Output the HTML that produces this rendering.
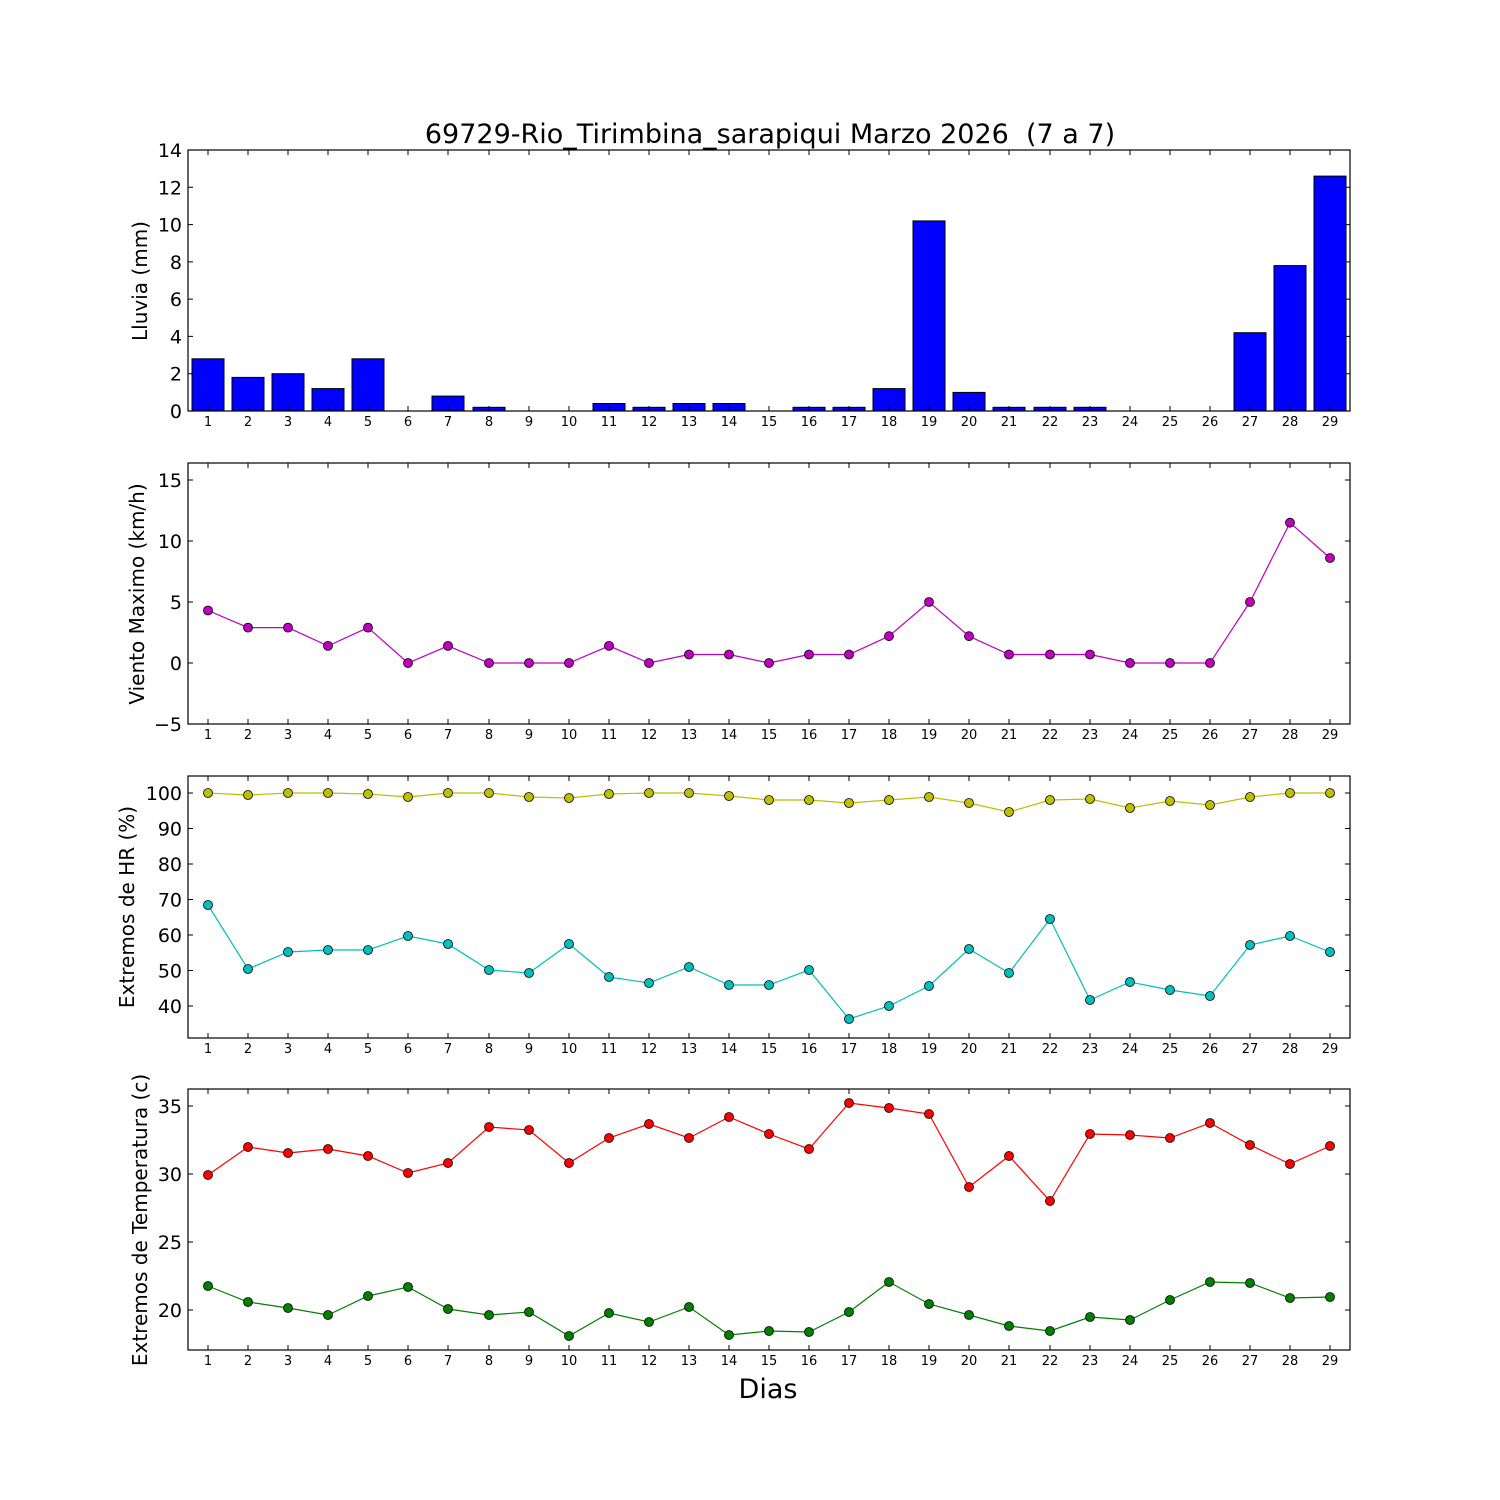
<!DOCTYPE html>
<html><head><meta charset="utf-8"><style>
html,body{margin:0;padding:0;background:#fff;}
svg{display:block;font-family:"DejaVu Sans","Liberation Sans",sans-serif;}
.xl{font-size:13px;text-anchor:middle;}
.yl{font-size:19px;text-anchor:end;}
.ax{fill:none;stroke:#000;stroke-width:1.2;}
.tk{stroke:#000;stroke-width:1;}
.m circle{stroke:#000;stroke-width:0.8;}
</style></head><body>
<svg width="1500" height="1500" viewBox="0 0 1500 1500">
<defs>
<g id="xt">
<path class="tk" d="M208 0v-5M248 0v-5M288 0v-5M328 0v-5M368 0v-5M408 0v-5M448 0v-5M489 0v-5M529 0v-5M569 0v-5M609 0v-5M649 0v-5M689 0v-5M729 0v-5M769 0v-5M809 0v-5M849 0v-5M889 0v-5M929 0v-5M969 0v-5M1009 0v-5M1050 0v-5M1090 0v-5M1130 0v-5M1170 0v-5M1210 0v-5M1250 0v-5M1290 0v-5M1330 0v-5"/>
</g>
<g id="xtt">
<path class="tk" d="M208 0v5M248 0v5M288 0v5M328 0v5M368 0v5M408 0v5M448 0v5M489 0v5M529 0v5M569 0v5M609 0v5M649 0v5M689 0v5M729 0v5M769 0v5M809 0v5M849 0v5M889 0v5M929 0v5M969 0v5M1009 0v5M1050 0v5M1090 0v5M1130 0v5M1170 0v5M1210 0v5M1250 0v5M1290 0v5M1330 0v5"/>
</g>
</defs>

<text x="770" y="143" font-size="27" text-anchor="middle" style="white-space:pre">69729-Rio_Tirimbina_sarapiqui Marzo 2026  (7 a 7)</text>

<!-- Panel 1 -->
<g fill="#0000ff" stroke="#000" stroke-width="1">
<rect x="192" y="358.8" width="32" height="52.2"/>
<rect x="232" y="377.4" width="32" height="33.6"/>
<rect x="272" y="373.7" width="32" height="37.3"/>
<rect x="312" y="388.6" width="32" height="22.4"/>
<rect x="352" y="358.8" width="32" height="52.2"/>
<rect x="432" y="396.1" width="32" height="14.9"/>
<rect x="473" y="407.3" width="32" height="3.7"/>
<rect x="593" y="403.5" width="32" height="7.5"/>
<rect x="633" y="407.3" width="32" height="3.7"/>
<rect x="673" y="403.5" width="32" height="7.5"/>
<rect x="713" y="403.5" width="32" height="7.5"/>
<rect x="793" y="407.3" width="32" height="3.7"/>
<rect x="833" y="407.3" width="32" height="3.7"/>
<rect x="873" y="388.6" width="32" height="22.4"/>
<rect x="913" y="220.9" width="32" height="190.1"/>
<rect x="953" y="392.4" width="32" height="18.6"/>
<rect x="993" y="407.3" width="32" height="3.7"/>
<rect x="1034" y="407.3" width="32" height="3.7"/>
<rect x="1074" y="407.3" width="32" height="3.7"/>
<rect x="1234" y="332.7" width="32" height="78.3"/>
<rect x="1274" y="265.6" width="32" height="145.4"/>
<rect x="1314" y="176.1" width="32" height="234.9"/>
</g>
<rect class="ax" x="188" y="150" width="1162" height="261"/>
<use href="#xt" transform="translate(0,411)"/><use href="#xtt" transform="translate(0,150)"/>
<path class="tk" d="M188 411h5M188 373.7h5M188 336.4h5M188 299.1h5M188 261.9h5M188 224.6h5M188 187.3h5M188 150h5M1350 411h-5M1350 373.7h-5M1350 336.4h-5M1350 299.1h-5M1350 261.9h-5M1350 224.6h-5M1350 187.3h-5M1350 150h-5"/>
<g class="yl"><text x="182" y="418">0</text><text x="182" y="380.7">2</text><text x="182" y="343.4">4</text><text x="182" y="306.1">6</text><text x="182" y="268.9">8</text><text x="182" y="231.6">10</text><text x="182" y="194.3">12</text><text x="182" y="157">14</text></g>
<text transform="translate(147,281) rotate(-90)" font-size="20" text-anchor="middle">Lluvia (mm)</text>
<g class="xl" transform="translate(0,426)"><text x="208">1</text><text x="248">2</text><text x="288">3</text><text x="328">4</text><text x="368">5</text><text x="408">6</text><text x="448">7</text><text x="489">8</text><text x="529">9</text><text x="569">10</text><text x="609">11</text><text x="649">12</text><text x="689">13</text><text x="729">14</text><text x="769">15</text><text x="809">16</text><text x="849">17</text><text x="889">18</text><text x="929">19</text><text x="969">20</text><text x="1009">21</text><text x="1050">22</text><text x="1090">23</text><text x="1130">24</text><text x="1170">25</text><text x="1210">26</text><text x="1250">27</text><text x="1290">28</text><text x="1330">29</text></g>

<!-- Panel 2 -->
<rect class="ax" x="188" y="463" width="1162" height="261"/>
<use href="#xt" transform="translate(0,724)"/><use href="#xtt" transform="translate(0,463)"/>
<path class="tk" d="M188 724h5M188 663h5M188 602h5M188 541h5M188 480h5M1350 724h-5M1350 663h-5M1350 602h-5M1350 541h-5M1350 480h-5"/>
<g class="yl"><text x="182" y="731">−5</text><text x="182" y="670">0</text><text x="182" y="609">5</text><text x="182" y="548">10</text><text x="182" y="487">15</text></g>
<text transform="translate(144,594) rotate(-90)" font-size="20" text-anchor="middle">Viento Maximo (km/h)</text>
<polyline fill="none" stroke="#bf00bf" stroke-width="1.2" points="208,610.5 248,627.6 288,627.6 328,645.9 368,627.6 408,663 448,645.9 489,663 529,663 569,663 609,645.9 649,663 689,654.5 729,654.5 769,663 809,654.5 849,654.5 889,636.2 929,602 969,636.2 1009,654.5 1050,654.5 1090,654.5 1130,663 1170,663 1210,663 1250,602 1290,522.7 1330,558"/>
<g class="m" fill="#bf00bf"><circle cx="208" cy="610.5" r="4.5"/><circle cx="248" cy="627.6" r="4.5"/><circle cx="288" cy="627.6" r="4.5"/><circle cx="328" cy="645.9" r="4.5"/><circle cx="368" cy="627.6" r="4.5"/><circle cx="408" cy="663" r="4.5"/><circle cx="448" cy="645.9" r="4.5"/><circle cx="489" cy="663" r="4.5"/><circle cx="529" cy="663" r="4.5"/><circle cx="569" cy="663" r="4.5"/><circle cx="609" cy="645.9" r="4.5"/><circle cx="649" cy="663" r="4.5"/><circle cx="689" cy="654.5" r="4.5"/><circle cx="729" cy="654.5" r="4.5"/><circle cx="769" cy="663" r="4.5"/><circle cx="809" cy="654.5" r="4.5"/><circle cx="849" cy="654.5" r="4.5"/><circle cx="889" cy="636.2" r="4.5"/><circle cx="929" cy="602" r="4.5"/><circle cx="969" cy="636.2" r="4.5"/><circle cx="1009" cy="654.5" r="4.5"/><circle cx="1050" cy="654.5" r="4.5"/><circle cx="1090" cy="654.5" r="4.5"/><circle cx="1130" cy="663" r="4.5"/><circle cx="1170" cy="663" r="4.5"/><circle cx="1210" cy="663" r="4.5"/><circle cx="1250" cy="602" r="4.5"/><circle cx="1290" cy="522.7" r="4.5"/><circle cx="1330" cy="558" r="4.5"/></g>
<g class="xl" transform="translate(0,739)"><text x="208">1</text><text x="248">2</text><text x="288">3</text><text x="328">4</text><text x="368">5</text><text x="408">6</text><text x="448">7</text><text x="489">8</text><text x="529">9</text><text x="569">10</text><text x="609">11</text><text x="649">12</text><text x="689">13</text><text x="729">14</text><text x="769">15</text><text x="809">16</text><text x="849">17</text><text x="889">18</text><text x="929">19</text><text x="969">20</text><text x="1009">21</text><text x="1050">22</text><text x="1090">23</text><text x="1130">24</text><text x="1170">25</text><text x="1210">26</text><text x="1250">27</text><text x="1290">28</text><text x="1330">29</text></g>

<!-- Panel 3 -->
<rect class="ax" x="188" y="776" width="1162" height="262"/>
<use href="#xt" transform="translate(0,1038)"/><use href="#xtt" transform="translate(0,776)"/>
<path class="tk" d="M188 1006h5M188 970.5h5M188 935h5M188 899.5h5M188 864h5M188 828.5h5M188 793h5M1350 1006h-5M1350 970.5h-5M1350 935h-5M1350 899.5h-5M1350 864h-5M1350 828.5h-5M1350 793h-5"/>
<g class="yl"><text x="182" y="1013">40</text><text x="182" y="977.5">50</text><text x="182" y="942">60</text><text x="182" y="906.5">70</text><text x="182" y="871">80</text><text x="182" y="835.5">90</text><text x="182" y="800">100</text></g>
<text transform="translate(134,907) rotate(-90)" font-size="20" text-anchor="middle">Extremos de HR (%)</text>
<polyline fill="none" stroke="#bfbf00" stroke-width="1.2" points="208,793 248,795 288,793 328,793 368,794 408,797 448,793 489,793 529,797 569,798 609,794 649,793 689,793 729,796 769,800 809,800 849,803 889,800 929,797 969,803 1009,812 1050,800 1090,799 1130,808 1170,801 1210,805 1250,797 1290,793 1330,793"/>
<g class="m" fill="#bfbf00"><circle cx="208" cy="793" r="4.5"/><circle cx="248" cy="795" r="4.5"/><circle cx="288" cy="793" r="4.5"/><circle cx="328" cy="793" r="4.5"/><circle cx="368" cy="794" r="4.5"/><circle cx="408" cy="797" r="4.5"/><circle cx="448" cy="793" r="4.5"/><circle cx="489" cy="793" r="4.5"/><circle cx="529" cy="797" r="4.5"/><circle cx="569" cy="798" r="4.5"/><circle cx="609" cy="794" r="4.5"/><circle cx="649" cy="793" r="4.5"/><circle cx="689" cy="793" r="4.5"/><circle cx="729" cy="796" r="4.5"/><circle cx="769" cy="800" r="4.5"/><circle cx="809" cy="800" r="4.5"/><circle cx="849" cy="803" r="4.5"/><circle cx="889" cy="800" r="4.5"/><circle cx="929" cy="797" r="4.5"/><circle cx="969" cy="803" r="4.5"/><circle cx="1009" cy="812" r="4.5"/><circle cx="1050" cy="800" r="4.5"/><circle cx="1090" cy="799" r="4.5"/><circle cx="1130" cy="808" r="4.5"/><circle cx="1170" cy="801" r="4.5"/><circle cx="1210" cy="805" r="4.5"/><circle cx="1250" cy="797" r="4.5"/><circle cx="1290" cy="793" r="4.5"/><circle cx="1330" cy="793" r="4.5"/></g>
<polyline fill="none" stroke="#00bfbf" stroke-width="1.2" points="208,905 248,969 288,952 328,950 368,950 408,936 448,944 489,970 529,973 569,944 609,977 649,983 689,967 729,985 769,985 809,970 849,1019 889,1006 929,986 969,949 1009,973 1050,919 1090,1000 1130,982 1170,990 1210,996 1250,945 1290,936 1330,952"/>
<g class="m" fill="#00bfbf"><circle cx="208" cy="905" r="4.5"/><circle cx="248" cy="969" r="4.5"/><circle cx="288" cy="952" r="4.5"/><circle cx="328" cy="950" r="4.5"/><circle cx="368" cy="950" r="4.5"/><circle cx="408" cy="936" r="4.5"/><circle cx="448" cy="944" r="4.5"/><circle cx="489" cy="970" r="4.5"/><circle cx="529" cy="973" r="4.5"/><circle cx="569" cy="944" r="4.5"/><circle cx="609" cy="977" r="4.5"/><circle cx="649" cy="983" r="4.5"/><circle cx="689" cy="967" r="4.5"/><circle cx="729" cy="985" r="4.5"/><circle cx="769" cy="985" r="4.5"/><circle cx="809" cy="970" r="4.5"/><circle cx="849" cy="1019" r="4.5"/><circle cx="889" cy="1006" r="4.5"/><circle cx="929" cy="986" r="4.5"/><circle cx="969" cy="949" r="4.5"/><circle cx="1009" cy="973" r="4.5"/><circle cx="1050" cy="919" r="4.5"/><circle cx="1090" cy="1000" r="4.5"/><circle cx="1130" cy="982" r="4.5"/><circle cx="1170" cy="990" r="4.5"/><circle cx="1210" cy="996" r="4.5"/><circle cx="1250" cy="945" r="4.5"/><circle cx="1290" cy="936" r="4.5"/><circle cx="1330" cy="952" r="4.5"/></g>
<g class="xl" transform="translate(0,1053)"><text x="208">1</text><text x="248">2</text><text x="288">3</text><text x="328">4</text><text x="368">5</text><text x="408">6</text><text x="448">7</text><text x="489">8</text><text x="529">9</text><text x="569">10</text><text x="609">11</text><text x="649">12</text><text x="689">13</text><text x="729">14</text><text x="769">15</text><text x="809">16</text><text x="849">17</text><text x="889">18</text><text x="929">19</text><text x="969">20</text><text x="1009">21</text><text x="1050">22</text><text x="1090">23</text><text x="1130">24</text><text x="1170">25</text><text x="1210">26</text><text x="1250">27</text><text x="1290">28</text><text x="1330">29</text></g>

<!-- Panel 4 -->
<rect class="ax" x="188" y="1089" width="1162" height="261"/>
<use href="#xt" transform="translate(0,1350)"/><use href="#xtt" transform="translate(0,1089)"/>
<path class="tk" d="M188 1310h5M188 1242h5M188 1174h5M188 1106h5M1350 1310h-5M1350 1242h-5M1350 1174h-5M1350 1106h-5"/>
<g class="yl"><text x="182" y="1317">20</text><text x="182" y="1249">25</text><text x="182" y="1181">30</text><text x="182" y="1113">35</text></g>
<text transform="translate(147,1220) rotate(-90)" font-size="20" text-anchor="middle">Extremos de Temperatura (c)</text>
<polyline fill="none" stroke="#ff0000" stroke-width="1.2" points="208,1175 248,1147 288,1153 328,1149 368,1156 408,1173 448,1163 489,1127 529,1130 569,1163 609,1138 649,1124 689,1138 729,1117 769,1134 809,1149 849,1103 889,1108 929,1114 969,1187 1009,1156 1050,1201 1090,1134 1130,1135 1170,1138 1210,1123 1250,1145 1290,1164 1330,1146"/>
<g class="m" fill="#ff0000"><circle cx="208" cy="1175" r="4.5"/><circle cx="248" cy="1147" r="4.5"/><circle cx="288" cy="1153" r="4.5"/><circle cx="328" cy="1149" r="4.5"/><circle cx="368" cy="1156" r="4.5"/><circle cx="408" cy="1173" r="4.5"/><circle cx="448" cy="1163" r="4.5"/><circle cx="489" cy="1127" r="4.5"/><circle cx="529" cy="1130" r="4.5"/><circle cx="569" cy="1163" r="4.5"/><circle cx="609" cy="1138" r="4.5"/><circle cx="649" cy="1124" r="4.5"/><circle cx="689" cy="1138" r="4.5"/><circle cx="729" cy="1117" r="4.5"/><circle cx="769" cy="1134" r="4.5"/><circle cx="809" cy="1149" r="4.5"/><circle cx="849" cy="1103" r="4.5"/><circle cx="889" cy="1108" r="4.5"/><circle cx="929" cy="1114" r="4.5"/><circle cx="969" cy="1187" r="4.5"/><circle cx="1009" cy="1156" r="4.5"/><circle cx="1050" cy="1201" r="4.5"/><circle cx="1090" cy="1134" r="4.5"/><circle cx="1130" cy="1135" r="4.5"/><circle cx="1170" cy="1138" r="4.5"/><circle cx="1210" cy="1123" r="4.5"/><circle cx="1250" cy="1145" r="4.5"/><circle cx="1290" cy="1164" r="4.5"/><circle cx="1330" cy="1146" r="4.5"/></g>
<polyline fill="none" stroke="#008000" stroke-width="1.2" points="208,1286 248,1302 288,1308 328,1315 368,1296 408,1287 448,1309 489,1315 529,1312 569,1336 609,1313 649,1322 689,1307 729,1335 769,1331 809,1332 849,1312 889,1282 929,1304 969,1315 1009,1326 1050,1331 1090,1317 1130,1320 1170,1300 1210,1282 1250,1283 1290,1298 1330,1297"/>
<g class="m" fill="#008000"><circle cx="208" cy="1286" r="4.5"/><circle cx="248" cy="1302" r="4.5"/><circle cx="288" cy="1308" r="4.5"/><circle cx="328" cy="1315" r="4.5"/><circle cx="368" cy="1296" r="4.5"/><circle cx="408" cy="1287" r="4.5"/><circle cx="448" cy="1309" r="4.5"/><circle cx="489" cy="1315" r="4.5"/><circle cx="529" cy="1312" r="4.5"/><circle cx="569" cy="1336" r="4.5"/><circle cx="609" cy="1313" r="4.5"/><circle cx="649" cy="1322" r="4.5"/><circle cx="689" cy="1307" r="4.5"/><circle cx="729" cy="1335" r="4.5"/><circle cx="769" cy="1331" r="4.5"/><circle cx="809" cy="1332" r="4.5"/><circle cx="849" cy="1312" r="4.5"/><circle cx="889" cy="1282" r="4.5"/><circle cx="929" cy="1304" r="4.5"/><circle cx="969" cy="1315" r="4.5"/><circle cx="1009" cy="1326" r="4.5"/><circle cx="1050" cy="1331" r="4.5"/><circle cx="1090" cy="1317" r="4.5"/><circle cx="1130" cy="1320" r="4.5"/><circle cx="1170" cy="1300" r="4.5"/><circle cx="1210" cy="1282" r="4.5"/><circle cx="1250" cy="1283" r="4.5"/><circle cx="1290" cy="1298" r="4.5"/><circle cx="1330" cy="1297" r="4.5"/></g>
<g class="xl" transform="translate(0,1365)"><text x="208">1</text><text x="248">2</text><text x="288">3</text><text x="328">4</text><text x="368">5</text><text x="408">6</text><text x="448">7</text><text x="489">8</text><text x="529">9</text><text x="569">10</text><text x="609">11</text><text x="649">12</text><text x="689">13</text><text x="729">14</text><text x="769">15</text><text x="809">16</text><text x="849">17</text><text x="889">18</text><text x="929">19</text><text x="969">20</text><text x="1009">21</text><text x="1050">22</text><text x="1090">23</text><text x="1130">24</text><text x="1170">25</text><text x="1210">26</text><text x="1250">27</text><text x="1290">28</text><text x="1330">29</text></g>
<text x="768" y="1398" font-size="27" text-anchor="middle">Dias</text>
</svg>
</body></html>
